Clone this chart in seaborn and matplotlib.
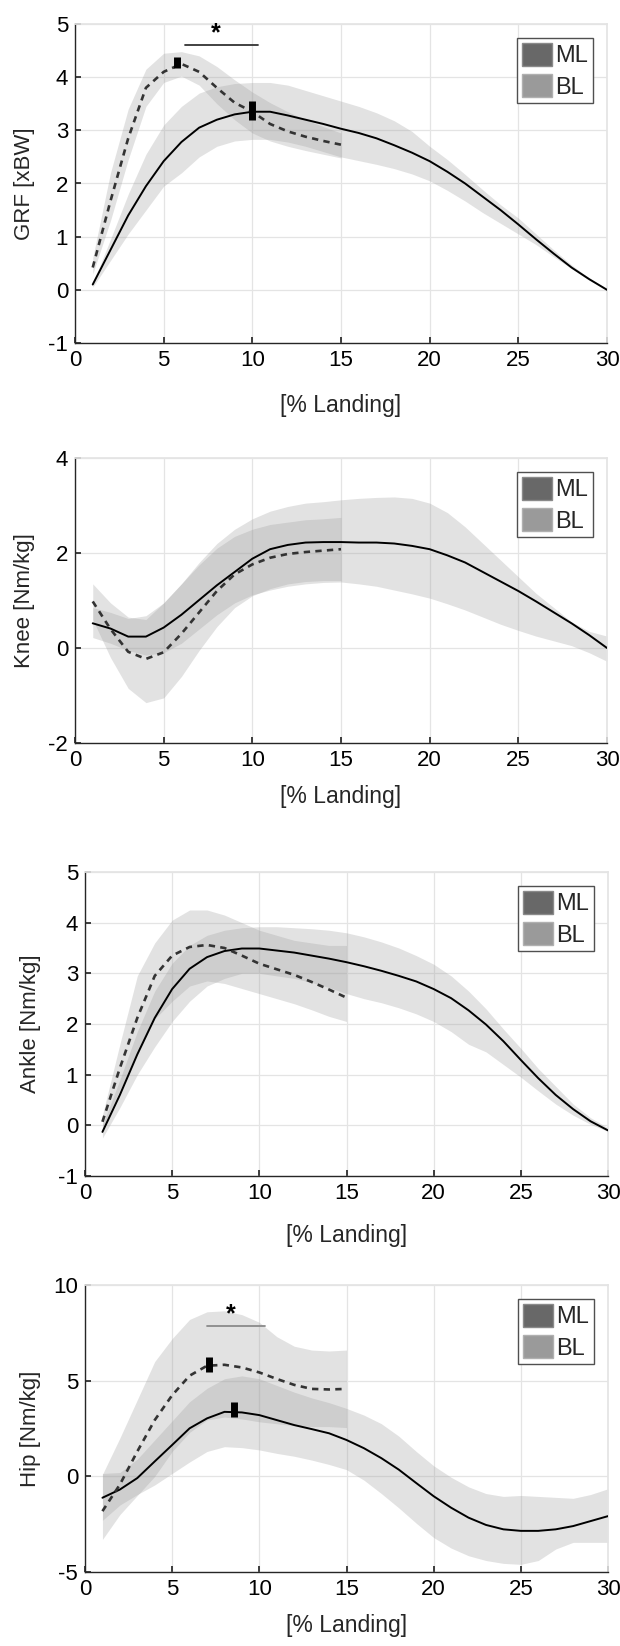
import matplotlib
matplotlib.use("Agg")
import matplotlib.pyplot as plt
import seaborn as sns
from matplotlib.patches import Patch

# x positions (% landing)
x_ml = [1, 2, 3, 4, 5, 6, 7, 8, 9, 10, 11, 12, 13, 14, 15, 16, 17, 18, 19, 20,
        21, 22, 23, 24, 25, 26, 27, 28, 29, 30]
x_bl = [1, 2, 3, 4, 5, 6, 7, 8, 9, 10, 11, 12, 13, 14, 15]

# GRF [xBW]
grf_ml = [0.1, 0.75, 1.4, 1.95, 2.42, 2.78, 3.05, 3.2, 3.3, 3.35, 3.35, 3.28, 3.2, 3.12, 3.03,
          2.95, 2.85, 2.72, 2.58, 2.42, 2.22, 2.0, 1.75, 1.5, 1.23, 0.95, 0.68, 0.42, 0.2, 0.0]
grf_ml_hi = [0.12, 0.95, 1.8, 2.55, 3.1, 3.45, 3.7, 3.82, 3.88, 3.9, 3.9, 3.85, 3.75, 3.65, 3.55,
             3.45, 3.33, 3.18, 2.98, 2.7, 2.45, 2.17, 1.88, 1.6, 1.35, 1.05, 0.75, 0.47, 0.22, 0.02]
grf_ml_lo = [0.05, 0.55, 1.05, 1.5, 1.95, 2.2, 2.5, 2.7, 2.8, 2.83, 2.83, 2.78, 2.7, 2.6, 2.5,
             2.43, 2.36, 2.28, 2.18, 2.05, 1.87, 1.67, 1.45, 1.25, 1.05, 0.85, 0.62, 0.4, 0.18, 0.0]
grf_bl = [0.42, 1.67, 2.85, 3.8, 4.1, 4.25, 4.1, 3.8, 3.52, 3.35, 3.12, 2.98, 2.88, 2.8, 2.73]
grf_bl_hi = [0.6, 2.2, 3.4, 4.15, 4.45, 4.48, 4.4, 4.2, 3.95, 3.72, 3.52, 3.35, 3.2, 3.07, 2.95]
grf_bl_lo = [0.3, 1.3, 2.45, 3.45, 3.9, 4.02, 3.85, 3.5, 3.2, 2.95, 2.8, 2.7, 2.62, 2.55, 2.48]

# Knee [Nm/kg]
knee_ml = [0.52, 0.41, 0.24, 0.24, 0.43, 0.7, 1.01, 1.32, 1.6, 1.88, 2.08, 2.17, 2.22, 2.23, 2.23,
           2.22, 2.22, 2.2, 2.15, 2.08, 1.95, 1.8, 1.6, 1.4, 1.2, 0.98, 0.75, 0.52, 0.27, 0.0]
knee_ml_hi = [0.85, 0.75, 0.62, 0.68, 0.95, 1.35, 1.8, 2.2, 2.5, 2.72, 2.88, 2.98, 3.05, 3.08, 3.12,
              3.15, 3.17, 3.18, 3.15, 3.05, 2.85, 2.55, 2.2, 1.85, 1.5, 1.15, 0.85, 0.55, 0.35, 0.25]
knee_ml_lo = [0.22, 0.1, -0.05, -0.15, -0.1, 0.1, 0.4, 0.7, 0.95, 1.12, 1.22, 1.3, 1.35, 1.38, 1.39,
              1.35, 1.3, 1.22, 1.14, 1.05, 0.93, 0.8, 0.65, 0.5, 0.37, 0.25, 0.15, 0.05, -0.1, -0.28]
knee_bl = [0.98, 0.4, -0.08, -0.23, -0.09, 0.3, 0.75, 1.2, 1.55, 1.76, 1.9, 1.98, 2.02, 2.05, 2.08]
knee_bl_hi = [1.35, 0.95, 0.65, 0.6, 0.95, 1.35, 1.75, 2.1, 2.35, 2.5, 2.6, 2.65, 2.7, 2.72, 2.75]
knee_bl_lo = [0.6, -0.2, -0.85, -1.15, -1.05, -0.6, -0.05, 0.45, 0.85, 1.1, 1.25, 1.35, 1.4, 1.42, 1.42]

# Ankle [Nm/kg]
ankle_ml = [-0.13, 0.6, 1.4, 2.12, 2.69, 3.09, 3.32, 3.44, 3.49, 3.49, 3.45, 3.41, 3.35, 3.29, 3.22,
            3.14, 3.05, 2.95, 2.84, 2.69, 2.51, 2.27, 1.99, 1.66, 1.29, 0.93, 0.6, 0.32, 0.08, -0.1]
ankle_ml_hi = [0.0, 0.9, 1.85, 2.65, 3.2, 3.55, 3.75, 3.85, 3.9, 3.92, 3.92, 3.9, 3.88, 3.85, 3.8,
               3.72, 3.62, 3.5, 3.35, 3.18, 2.95, 2.65, 2.3, 1.9, 1.52, 1.12, 0.77, 0.42, 0.15, -0.05]
ankle_ml_lo = [-0.25, 0.35, 1.0, 1.55, 2.05, 2.45, 2.75, 2.9, 3.0, 3.0, 2.95, 2.9, 2.82, 2.72, 2.6,
               2.5, 2.42, 2.32, 2.2, 2.05, 1.85, 1.6, 1.45, 1.2, 0.95, 0.68, 0.42, 0.2, 0.02, -0.12]
ankle_bl = [0.07, 1.13, 2.12, 2.95, 3.35, 3.52, 3.56, 3.5, 3.35, 3.19, 3.08, 2.97, 2.83, 2.68, 2.52]
ankle_bl_hi = [0.2, 1.6, 2.95, 3.6, 4.05, 4.25, 4.25, 4.15, 4.0, 3.85, 3.75, 3.65, 3.6, 3.55, 3.55]
ankle_bl_lo = [-0.05, 0.7, 1.4, 2.1, 2.45, 2.75, 2.85, 2.8, 2.7, 2.6, 2.5, 2.4, 2.28, 2.15, 2.05]

# Hip [Nm/kg]
hip_ml = [-1.12, -0.69, -0.09, 0.78, 1.64, 2.51, 3.03, 3.37, 3.34, 3.2, 2.94, 2.68, 2.47, 2.25, 1.9,
          1.47, 0.95, 0.35, -0.35, -1.04, -1.64, -2.16, -2.54, -2.77, -2.85, -2.85, -2.77, -2.6, -2.34, -2.08]
hip_ml_hi = [0.15, 0.2, 0.9, 1.9, 2.9, 3.9, 4.6, 5.1, 5.25, 5.1, 4.75, 4.4, 4.1, 3.85, 3.55,
             3.2, 2.75, 2.1, 1.3, 0.55, -0.05, -0.55, -0.9, -1.05, -1.0, -1.05, -1.1, -1.15, -0.95, -0.65]
hip_ml_lo = [-2.3, -1.5, -0.95, -0.45, 0.15, 0.75, 1.3, 1.55, 1.5, 1.38, 1.2, 1.05, 0.85, 0.62, 0.35,
             -0.2, -0.9, -1.65, -2.45, -3.2, -3.75, -4.15, -4.4, -4.55, -4.6, -4.4, -3.8, -3.45, -3.45, -3.45]
hip_bl = [-1.82, -0.43, 1.3, 2.94, 4.24, 5.26, 5.78, 5.83, 5.69, 5.43, 5.09, 4.78, 4.57, 4.54, 4.57]
hip_bl_hi = [0.1, 2.0, 4.0, 6.0, 7.2, 8.2, 8.6, 8.65, 8.45, 8.05, 7.3, 6.8, 6.6, 6.55, 6.6]
hip_bl_lo = [-3.3, -2.0, -1.0, 0.0, 1.3, 2.3, 2.95, 3.1, 3.0, 2.85, 2.75, 2.65, 2.6, 2.6, 2.55]

# peak markers (x, low, high) and significance bars (x0, x1, y)
grf_peaks = [(5.75, 4.17, 4.38), (10.0, 3.2, 3.55)]
hip_peaks = [(7.13, 5.45, 6.25), (8.55, 3.08, 3.9)]
grf_sig = (6.2, 10.3, 4.6)
hip_sig = (7.0, 10.3, 7.85)

ylabels = ["GRF [xBW]", "Knee [Nm/kg]", "Ankle [Nm/kg]", "Hip [Nm/kg]"]
legend_labels = ["ML", "BL"]

sns.set_theme(style="ticks")
plt.rcParams["font.family"] = ["Liberation Sans", "DejaVu Sans"]
plt.rcParams["axes.unicode_minus"] = False

fig = plt.figure(figsize=(6.2, 16.46), dpi=100)
W, H = 620, 1646
# left, right, top, bottom in pixels
boxes = [(75, 607, 24, 343), (75, 607, 458, 743), (85, 608, 872, 1176), (85, 608, 1285, 1572)]
ylims = [(-1, 5), (-2, 4), (-1, 5), (-5, 10)]
yticks = [range(-1, 6), [-2, 0, 2, 4], range(-1, 6), [-5, 0, 5, 10]]
xlab_centers = [407, 798, 1237, 1627]
ylab_right = [35, 35, 41, 41]

panels = [
    (grf_ml, grf_ml_lo, grf_ml_hi, grf_bl, grf_bl_lo, grf_bl_hi),
    (knee_ml, knee_ml_lo, knee_ml_hi, knee_bl, knee_bl_lo, knee_bl_hi),
    (ankle_ml, ankle_ml_lo, ankle_ml_hi, ankle_bl, ankle_bl_lo, ankle_bl_hi),
    (hip_ml, hip_ml_lo, hip_ml_hi, hip_bl, hip_bl_lo, hip_bl_hi),
]

grid_c = "#e4e4e4"
band_c = "#a0a0a0"

for i, (ml, ml_lo, ml_hi, bl, bl_lo, bl_hi) in enumerate(panels):
    l, r, t, b = boxes[i]
    ax = fig.add_axes([l / W, 1 - b / H, (r - l) / W, (b - t) / H])

    ax.fill_between(x_bl, bl_lo, bl_hi, color=band_c, alpha=0.3, lw=0, zorder=1)
    ax.fill_between(x_ml, ml_lo, ml_hi, color=band_c, alpha=0.3, lw=0, zorder=1)
    sns.lineplot(x=x_ml, y=ml, ax=ax, color="black", lw=1.4, zorder=3)
    sns.lineplot(x=x_bl, y=bl, ax=ax, color="#333333", lw=1.9,
                 linestyle=(0, (2.4, 2.0)), zorder=3)

    ax.set_xlim(0, 30)
    ax.set_ylim(*ylims[i])
    ax.set_xticks(range(0, 31, 5))
    ax.set_yticks(list(yticks[i]))
    ax.grid(True, color=grid_c, lw=0.9)
    ax.set_axisbelow(True)
    for s in ["top", "right"]:
        ax.spines[s].set_color(grid_c)
    for s in ["left", "bottom"]:
        ax.spines[s].set_color("#262626")
        ax.spines[s].set_linewidth(1.0)
    ax.tick_params(direction="in", length=4, labelsize=16, colors="#262626", pad=5)
    for lab in ax.get_xticklabels() + ax.get_yticklabels():
        lab.set_color("black")

    ax.set_xlabel("[% Landing]", fontsize=16.5)
    ax.set_ylabel(ylabels[i], fontsize=16)
    ax.xaxis.set_label_coords(0.5, -(xlab_centers[i] - 13 - b) / (b - t))
    ax.yaxis.set_label_coords((ylab_right[i] - l) / (r - l), 0.5)

    handles = [Patch(facecolor="#686868", edgecolor="#8a8a8a"),
               Patch(facecolor="#9a9a9a", edgecolor="#b0b0b0")]
    leg = ax.legend(handles, legend_labels, loc="upper right", fontsize=17,
                    frameon=True, fancybox=False, edgecolor="#505050",
                    framealpha=1, handlelength=1.3, handleheight=1.1,
                    handletextpad=0.12, labelspacing=0.3, borderpad=0.2,
                    borderaxespad=0.6)
    leg.get_frame().set_linewidth(1.0)

    if i == 0:
        peaks, sig, sig_c = grf_peaks, grf_sig, "#333333"
    elif i == 3:
        peaks, sig, sig_c = hip_peaks, hip_sig, "#8a8a8a"
    else:
        peaks = None
    if peaks:
        for px, lo, hi in peaks:
            ax.vlines(px, lo, hi, color="black", lw=5, zorder=4)
        ax.plot([sig[0], sig[1]], [sig[2], sig[2]], color=sig_c, lw=1.3, zorder=4)
        ax.text((sig[0] + sig[1]) / 2 - 0.3, sig[2], "*", ha="center", va="bottom",
                fontsize=18, fontweight="bold", color="black")

fig.savefig("out.png", dpi=100)
